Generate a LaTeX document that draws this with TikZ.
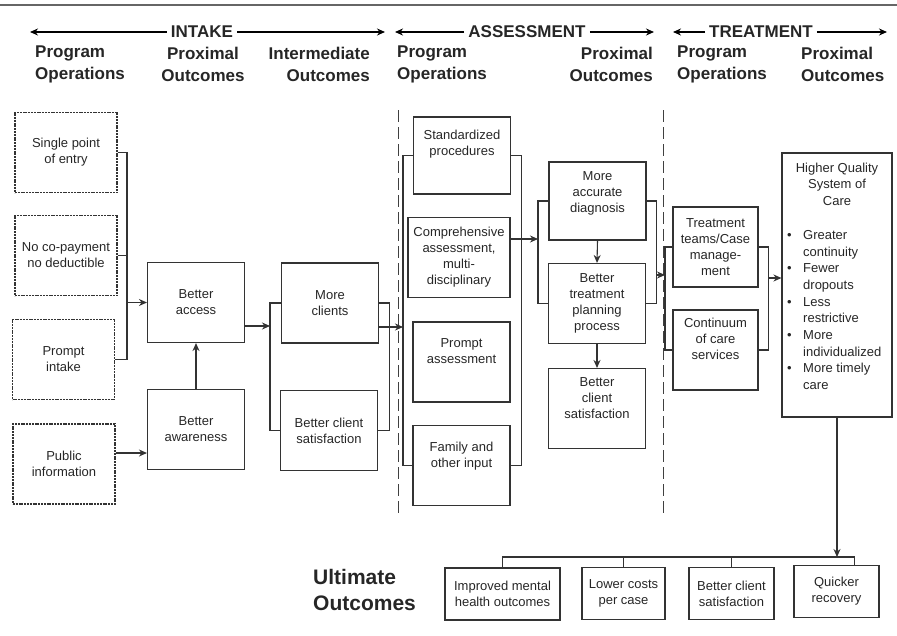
\documentclass[tikz,border=0pt]{standalone}
\usepackage{fontspec}
\setmainfont{Liberation Sans}
\usetikzlibrary{arrows.meta}

\begin{document}
\begin{tikzpicture}[x=1pt, y=-1pt, >={Stealth[length=8pt,width=7pt]},
  every node/.style={text=black!85},
  box/.style={draw=black!80, line width=1.1pt, align=center, inner sep=1pt,
    font=\fontsize{13}{16}\selectfont, minimum width=97pt, minimum height=80pt},
  opbox/.style={box, dash pattern=on 2pt off 0.8pt, minimum width=102pt},
  ubox/.style={box, minimum height=52pt},
  head/.style={font=\fontsize{17}{22}\selectfont\bfseries, inner sep=0pt},
  phase/.style={font=\fontsize{17}{22}\selectfont\bfseries, inner sep=4pt},
  link/.style={draw=black!80, line width=1.1pt},
  sep/.style={draw=black!75, line width=1pt, dash pattern=on 12pt off 5pt}]
\useasboundingbox (0,0) rectangle (897,635);
\draw[line width=2pt, black!60] (0,5) -- (897,5);

\node[phase] (intake) at (202,32) {INTAKE};
\node[phase] (assess) at (527,32) {ASSESSMENT};
\node[phase] (treat) at (761,32) {TREATMENT};
\coordinate (iL) at (30,32);
\coordinate (iR) at (385,32);
\coordinate (aL) at (395,32);
\coordinate (aR) at (654,32);
\coordinate (tL) at (673,32);
\coordinate (tR) at (887,32);
\draw[->, line width=1.4pt] (intake) -- (iL);
\draw[->, line width=1.4pt] (intake) -- (iR);
\draw[->, line width=1.4pt] (assess) -- (aL);
\draw[->, line width=1.4pt] (assess) -- (aR);
\draw[->, line width=1.4pt] (treat) -- (tL);
\draw[->, line width=1.4pt] (treat) -- (tR);

\node[head, anchor=west, align=left] (ipo) at (35,64) {Program\\Operations};
\node[head, align=center] (ipx) at (203,64) {Proximal\\Outcomes};
\node[head, anchor=east, align=right] (iio) at (370,64) {Intermediate\\Outcomes};
\node[head, anchor=west, align=left] (apo) at (397,64) {Program\\Operations};
\node[head, anchor=east, align=right] (apx) at (653,64) {Proximal\\Outcomes};
\node[head, anchor=west, align=left] (tpo) at (677,64) {Program\\Operations};
\node[head, anchor=west, align=left] (tpx) at (801,64) {Proximal\\Outcomes};

\draw[sep] (398,110) -- (398,515);
\draw[sep] (663,110) -- (663,515);

\node[opbox] (sp) at (66,152.5) {Single point\\of entry};
\node[opbox] (ncp) at (66,255.5) {No co-payment\\no deductible};
\node[opbox] (pi) at (63.5,359.5) {Prompt\\intake};
\node[opbox] (pub) at (64,464) {Public\\information};
\node[box] (ba) at (196,302.5) {Better\\access};
\node[box] (bw) at (196,429.5) {Better\\awareness};
\node[box] (mc) at (330,303) {More\\clients};
\node[box] (bcs1) at (329,430.5) {Better client\\satisfaction};

\node[box, minimum height=77pt] (std) at (462,155.5) {Standardized\\procedures\\[10pt]};
\node[box, minimum width=102pt] (comp) at (459,257.5) {Comprehensive\\assessment,\\multi-\\disciplinary};
\node[box] (pa) at (461.5,362) {Prompt\\assessment\\[6pt]};
\node[box] (fam) at (461.5,465.5) {Family and\\other input\\[6pt]};
\node[box, minimum height=78pt] (mad) at (597.5,201) {More\\accurate\\diagnosis\\[2pt]};
\node[box] (btp) at (597,303.5) {Better\\treatment\\planning\\process};
\node[box] (bcs2) at (597,408.5) {Better\\client\\satisfaction\\[4pt]};

\node[box, minimum width=85pt] (ttc) at (715.5,247) {Treatment\\teams/Case\\manage-\\ment};
\node[box, minimum width=85pt] (ccs) at (715.5,350) {Continuum\\of care\\services\\[6pt]};
\node[box, minimum width=110pt, minimum height=264pt] (hq) at (837,285) {};
\node[font=\fontsize{13}{16.5}\selectfont, align=center, inner sep=0pt] (hqt) at (837,184)
  {Higher Quality\\System of\\Care};
\node[font=\fontsize{13}{16.7}\selectfont, align=left, anchor=west, inner sep=0pt] (hql) at (787,310)
  {\makebox[16pt][l]{\textbullet}Greater\\\hspace*{16pt}continuity\\
   \makebox[16pt][l]{\textbullet}Fewer\\\hspace*{16pt}dropouts\\
   \makebox[16pt][l]{\textbullet}Less\\\hspace*{16pt}restrictive\\
   \makebox[16pt][l]{\textbullet}More\\\hspace*{16pt}individualized\\
   \makebox[16pt][l]{\textbullet}More timely\\\hspace*{16pt}care};

\node[font=\fontsize{21}{26}\selectfont\bfseries, align=left, anchor=west, inner sep=0pt] (ult) at (313,590)
  {Ultimate\\Outcomes};
\node[ubox, minimum width=115pt] (imh) at (502.5,594) {Improved mental\\health outcomes};
\node[ubox, minimum width=83pt] (lc) at (623.5,593.5) {Lower costs\\per case};
\node[ubox, minimum width=85pt] (bcs3) at (731.5,593.5) {Better client\\satisfaction};
\node[ubox, minimum width=85pt] (qr) at (836.5,591.5) {Quicker\\recovery};

\coordinate (j1) at (127,302.5);
\coordinate (j2) at (270,326);
\coordinate (j3) at (403,327);
\coordinate (j5) at (538,239);
\coordinate (j6) at (665,275);
\coordinate (j7) at (768,278);
\coordinate (j8) at (837,557);
\coordinate (pe) at ([yshift=11pt]pub.east);
\coordinate (b2r) at ([xshift=10pt]mad.east);
\coordinate (qn) at ([xshift=18pt]qr.north);

\draw[link] (sp.east) -- (sp.east -| j1) |- (pi.east);
\draw[link] (ncp.east) -- (ncp.east -| j1);
\draw[link, ->] (j1) -- (ba.west);
\draw[link, ->] (pe) -- (pe -| bw.west);
\draw[link, ->] (bw.north) -- (ba.south);
\draw[link, ->] (ba.east |- j2) -- (j2);
\draw[link] (mc.west) -- (mc.west -| j2) |- (bcs1.west);
\draw[link] (mc.east) -- ++(10,0) |- (bcs1.east);
\draw[link, ->] (mc.east |- j3) -- (j3);

\draw[link] (std.west) -- (std.west -| j3) |- (fam.west);
\draw[link] (std.east) -- ++(10,0) |- (fam.east);
\draw[link, ->] (comp.east |- j5) -- (j5);
\draw[link] (mad.west) -- (mad.west -| j5) |- (btp.west);
\draw[link] (mad.east) -- (b2r) |- (btp.east);
\draw[link, ->] (mad.south) -- (btp.north);
\draw[link, ->] (btp.south) -- (bcs2.north);
\draw[link, ->] (b2r |- j6) -- (j6);

\draw[link] (ttc.west) -- (ttc.west -| j6) |- (ccs.west);
\draw[link] (ttc.east) -- ++(10,0) |- (ccs.east);
\draw[link, ->] (j7) -- (j7 -| hq.west);

\draw[link, ->] (hq.south) -- (j8);
\draw[link] (imh.north) -- (imh.north |- j8) -- (qn |- j8) -- (qn);
\draw[link] (lc.north) -- (lc.north |- j8);
\draw[link] (bcs3.north) -- (bcs3.north |- j8);
\end{tikzpicture}
\end{document}
